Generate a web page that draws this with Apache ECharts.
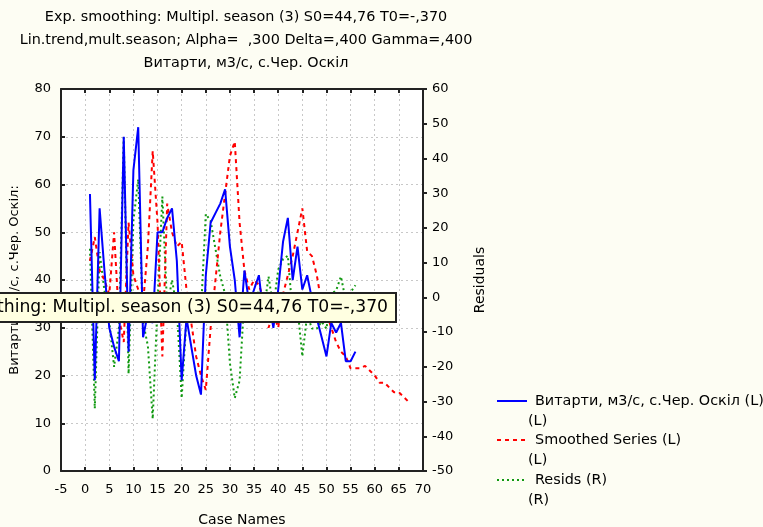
<!DOCTYPE html>
<html><head><meta charset="utf-8">
<script src="https://cdn.jsdelivr.net/npm/echarts@6/dist/echarts.min.js"></script>
<style>html,body{margin:0;padding:0;background:#fdfdf3;}#c{width:763px;height:527px;}</style>
</head><body><div id="c"></div>
<script>
const titleLines = ['Exp. smoothing: Multipl. season (3) S0=44,76 T0=-,370','Lin.trend,mult.season; Alpha=  ,300 Delta=,400 Gamma=,400','Витарти, м3/с, с.Чер. Оскіл'];
const seriesNames = ['Витарти, м3/с, с.Чер. Оскіл (L)','Smoothed Series (L)','Resids (R)'];
const seriesSides = ['(L)','(L)','(R)'];
const firstCase = 1;
const observed = [58,19,55,42,30,26,23,70,25,63,72,28,33,31,50,50,53,55,44,19,32,26,20,16,41,52,54,56,59,47,40,28,42,35,38,41,32,36,30,38,48,53,40,47,38,41,36,32,28,24,31,29,31,23,23,25];
const smoothed = [44,49,42,40,37,50,32,27,52,41,38,35,47,67,52,24,56,50,47,48,38,31,24,20,17,30,40,50,58,66,69,52,42,38,40,39,36,30,33,30,37,41,45,50,55,46,45,41,35,33,30,27,25,24,21.5,21.5,21.5,22,21,20,18.5,18.5,17.5,16.5,16.5,15.5,14.5];
const resids = [14,-32,13,2,-7,-20,-9,46,-22,22,34,-7,-14,-35,-2,29,-3,5,-3,-29,-6,-5,-4,-4,24,22,14,6,1,-19,-29,-24,0,-3,-2,2,-4,6,-3,8,11,12,-5,-3,-17,-5,-9,-9,-7,-9,1,2,6,-1,1.5,3.5];

const toPairs = arr => arr.map((v,i)=>[firstCase+i, v]);
const F = 'DejaVu Sans, Verdana, sans-serif';
const chart = echarts.init(document.getElementById('c'));
const gridL=61, gridT=89, gridR=423, gridB=471;
const legendItems = [
  {color:'#0000ff', type:'solid', y:401},
  {color:'#ff0000', type:[4,4], y:440},
  {color:'#119911', type:[2,3], y:480}
];
const graphics = [];
titleLines.forEach((t,i)=>{
  graphics.push({type:'text', x:246, y:[17,40,63][i], style:{text:t, align:'center', verticalAlign:'middle', font:'14.4px '+F, fill:'#000'}});
});
legendItems.forEach((it,i)=>{
  graphics.push({type:'line', shape:{x1:497,y1:it.y,x2:527,y2:it.y}, style:{stroke:it.color, lineWidth:2, lineDash: it.type==='solid'?null:it.type}});
  graphics.push({type:'text', x:535, y:it.y, style:{text:seriesNames[i], align:'left', verticalAlign:'middle', font:'14.4px '+F, fill:'#000'}});
  graphics.push({type:'text', x:528, y:it.y+20, style:{text:seriesSides[i], align:'left', verticalAlign:'middle', font:'14.4px '+F, fill:'#000'}});
});
graphics.push({type:'rect', z:100, shape:{x:-10,y:293,width:406,height:29}, style:{fill:'#ffffe1', stroke:'#222', lineWidth:2}});
graphics.push({type:'text', z:101, x:388, y:308, style:{text:titleLines[0], align:'right', verticalAlign:'middle', font:'17.2px '+F, fill:'#000'}});

const axisLbl = {color:'#000', fontSize:13, fontFamily:F};
const nameStyle = {color:'#000', fontSize:14, fontFamily:F};
chart.setOption({
  backgroundColor:'#fdfdf3',
  animation:false,
  grid:{left:gridL, top:gridT, width:gridR-gridL, height:gridB-gridT, backgroundColor:'#ffffff', show:true, borderWidth:0, containLabel:false, outerBoundsMode:'none'},
  xAxis:[{
    type:'value', min:-5, max:70, interval:5, position:'bottom',
    name:'Case Names', nameLocation:'middle', nameGap:42, nameTextStyle:nameStyle,
    axisLine:{show:true, onZero:false, lineStyle:{color:'#222', width:2}},
    axisTick:{show:true, inside:true, length:4, lineStyle:{color:'#222', width:2}},
    axisLabel:Object.assign({margin:12}, axisLbl),
    splitLine:{show:true, lineStyle:{color:'#c8c8c8', type:[2,3], width:1}}
  },{
    type:'value', min:-5, max:70, interval:5, position:'top',
    axisLine:{show:true, onZero:false, lineStyle:{color:'#222', width:2}},
    axisTick:{show:true, inside:true, length:4, lineStyle:{color:'#222', width:2}},
    axisLabel:{show:false}, splitLine:{show:false}
  }],
  yAxis:[{
    type:'value', min:0, max:80, interval:10, position:'left',
    name:'Витарти, м3/с, с.Чер. Оскіл:', nameLocation:'middle', nameGap:40,
    nameTextStyle:{color:'#000', fontSize:13, fontFamily:F},
    axisLine:{show:true, onZero:false, lineStyle:{color:'#222', width:2}},
    axisTick:{show:true, inside:true, length:4, lineStyle:{color:'#222', width:2}},
    axisLabel:Object.assign({margin:10}, axisLbl),
    splitLine:{show:true, lineStyle:{color:'#c8c8c8', type:[2,3], width:1}}
  },{
    type:'value', min:-50, max:60, interval:10, position:'right',
    name:'Residuals', nameLocation:'middle', nameGap:50, nameTextStyle:nameStyle,
    axisLine:{show:true, onZero:false, lineStyle:{color:'#222', width:2}},
    axisTick:{show:true, inside:false, length:4, lineStyle:{color:'#222', width:2}},
    axisLabel:Object.assign({margin:9}, axisLbl),
    splitLine:{show:false}
  }],
  series:[
    {name:seriesNames[0], type:'line', xAxisIndex:0, yAxisIndex:0, data:toPairs(observed), showSymbol:false, lineStyle:{color:'#0000ff', width:2}, z:3},
    {name:seriesNames[1], type:'line', xAxisIndex:0, yAxisIndex:0, data:toPairs(smoothed), showSymbol:false, lineStyle:{color:'#ff0000', width:2, type:[4,4]}, z:2},
    {name:seriesNames[2], type:'line', xAxisIndex:0, yAxisIndex:1, data:toPairs(resids), showSymbol:false, lineStyle:{color:'#119911', width:2, type:[2,3]}, z:1}
  ],
  graphic:graphics
});
</script></body></html>
